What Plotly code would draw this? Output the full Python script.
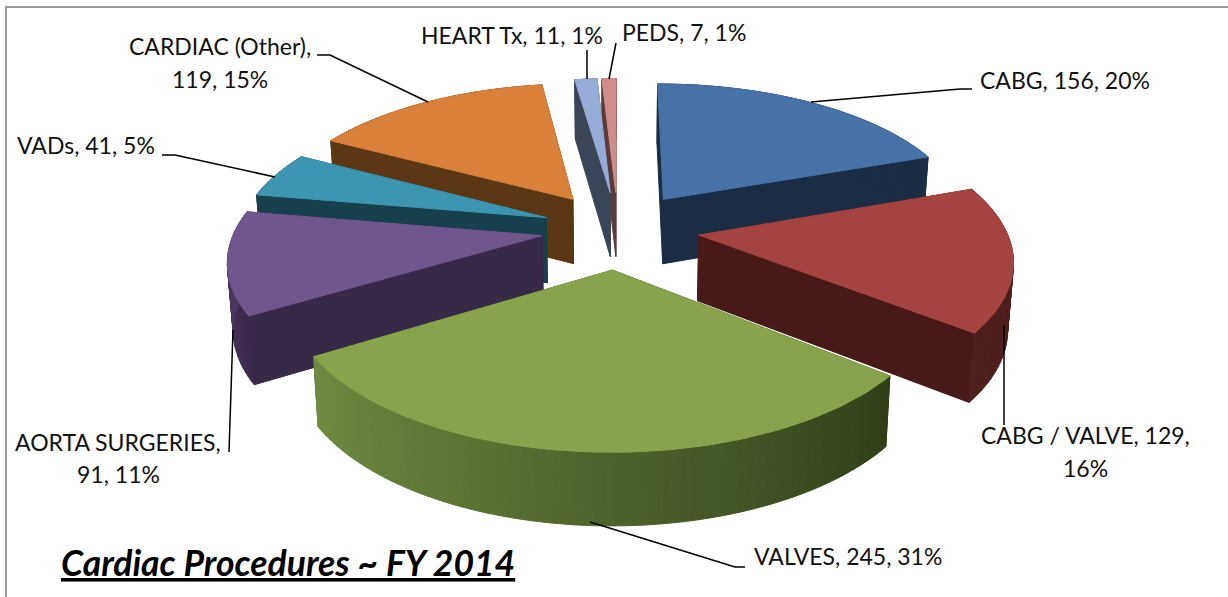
import math
import plotly.graph_objects as go

# ---- data
categories = ["CABG", "CABG / VALVE", "VALVES", "AORTA SURGERIES", "VADs",
              "CARDIAC (Other)", "HEART Tx", "PEDS"]
values = [156, 129, 245, 91, 41, 119, 11, 7]
percents = [20, 16, 31, 11, 5, 15, 1, 1]
chart_title = "Cardiac Procedures ~ FY 2014"

# ---- styling
top_colors = ["#4672a8", "#a54340", "#87a44c", "#70568f", "#3d96b1", "#d9803b", "#95add6", "#d18d8b"]
face_colors = ["#1a2d45", "#471a18", "#2f3e18", "#392949", "#17404c", "#5c3714", "#3a4558", "#5a3b3a"]
wall_a = ["#1a2d45", "#4a1b19", "#2f3e18", "#392949", "#17404c", "#5c3714", "#3a4558", "#5a3b3a"]
wall_b = ["#1a2d45", "#4f1f1d", "#718c42", "#55416f", "#17404c", "#5c3714", "#3a4558", "#5a3b3a"]
explode = [0.265, 0.265, 0.28, 0.25, 0.25, 0.265, 0.27, 0.27]
draw_order = [7, 6, 5, 4, 0, 3, 1, 2]
CX, CY, RX, RY, P, DEPTH, SHRINK = 618.0, 229.0, 307.0, 141.0, 0.15, 65.5, 0.985


def project(wx, wd, down=False):
    s = 1.0 / (1.0 + P * wd)
    x, y = wx * RX * s, -wd * RY * s
    if down:
        x *= SHRINK
        y += DEPTH * s ** 0.55
    return CX + x, CY + y


def mix(a, b, t):
    ca = [int(a[i:i + 2], 16) for i in (1, 3, 5)]
    cb = [int(b[i:i + 2], 16) for i in (1, 3, 5)]
    return "#%02x%02x%02x" % tuple(round(p + (q - p) * t) for p, q in zip(ca, cb))


def poly(fig, pts, color, edge=None, w=1):
    fig.add_trace(go.Scatter(x=[p[0] for p in pts] + [pts[0][0]],
                             y=[p[1] for p in pts] + [pts[0][1]],
                             mode="lines", fill="toself", fillcolor=color,
                             line=dict(color=edge or color, width=w),
                             hoverinfo="skip", showlegend=False))


total = sum(values)
spans, acc = [], 0.0
for v in values:
    spans.append((acc / total * 2 * math.pi, (acc + v) / total * 2 * math.pi))
    acc += v

fig = go.Figure()
for i in draw_order:
    a0, a1 = spans[i]
    mid = (a0 + a1) / 2
    ex, ed = explode[i] * math.sin(mid), explode[i] * math.cos(mid)
    n = max(3, int((a1 - a0) / math.radians(1.5)))
    rim = [(ex + math.sin(a0 + (a1 - a0) * k / n), ed + math.cos(a0 + (a1 - a0) * k / n))
           for k in range(n + 1)]
    apex_t, apex_b = project(ex, ed), project(ex, ed, True)
    # radial faces
    for p in (rim[0], rim[-1]):
        poly(fig, [apex_t, project(*p), project(*p, True), apex_b], face_colors[i])
    # outer wall, in shaded strips
    for k in range(n):
        c = mix(wall_a[i], wall_b[i], (k + 0.5) / n)
        poly(fig, [project(*rim[k]), project(*rim[k + 1]),
                   project(*rim[k + 1], True), project(*rim[k], True)], c)
    # top face
    poly(fig, [apex_t] + [project(*p) for p in rim], top_colors[i])

# ---- labels: (index, lines, positions)
label_lines = [
    (0, ["{c}, {v}, {p}%"], [(1065, 80)]),
    (1, ["{c}, {v},", "{p}%"], [(1085, 435), (1085, 468)]),
    (2, ["{c}, {v}, {p}%"], [(848, 556)]),
    (3, ["{c},", "{v}, {p}%"], [(118, 442), (118, 474)]),
    (4, ["{c}, {v}, {p}%"], [(86, 145)]),
    (5, ["{c},", "{v}, {p}%"], [(220, 46), (220, 79)]),
    (6, ["{c}, {v}, {p}%"], [(512, 35)]),
    (7, ["{c}, {v}, {p}%"], [(684, 32)]),
]
annotations = []
for i, lines, pos in label_lines:
    for line, (x, y) in zip(lines, pos):
        annotations.append(dict(x=x, y=y, xref="x", yref="y", showarrow=False,
                                text=line.format(c=categories[i], v=values[i], p=percents[i]),
                                font=dict(family="Lato", size=23, color="#111111")))
annotations.append(dict(x=288, y=562, xref="x", yref="y", showarrow=False,
                        text="<b><i><u>%s</u></i></b>" % chart_title,
                        font=dict(family="Lato", size=35.5, color="#000000")))

leaders = [
    "M972,89 L960,89 L811,102", "M1004,425 L1004,325", "M745,567 L735,567 L590,522",
    "M229,452 L233,330", "M162,155 L175,155 L275,177", "M317,55 L330,55 L428,102",
    "M587,50 L587,79", "M616,43 L609,79",
]
shapes = [dict(type="path", path=p, xref="x", yref="y", line=dict(color="#000000", width=1.5))
          for p in leaders]
shapes += [dict(type="path", path="M6,597 L6,7 L1228,7", xref="x", yref="y",
                line=dict(color="#9a9a9a", width=2))]

fig.update_layout(width=1228, height=597, margin=dict(l=0, r=0, t=0, b=0),
                  paper_bgcolor="white", plot_bgcolor="white", showlegend=False,
                  annotations=annotations, shapes=shapes,
                  xaxis=dict(range=[0, 1228], visible=False, fixedrange=True),
                  yaxis=dict(range=[597, 0], visible=False, fixedrange=True))
fig.write_html("out.html", post_script="document.body.style.margin='0';",
               config=dict(displayModeBar=False))
